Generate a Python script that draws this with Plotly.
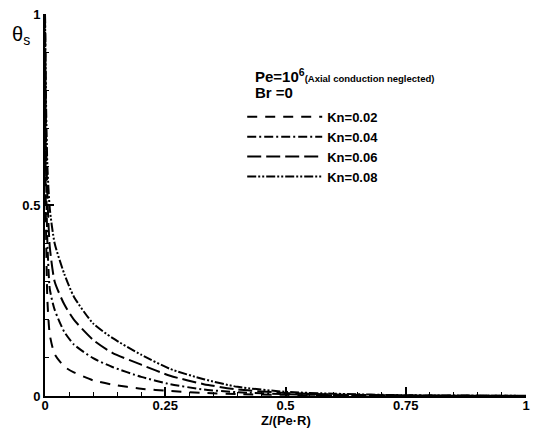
import plotly.graph_objects as go

z = [0, 0.002, 0.005, 0.01, 0.02, 0.04, 0.06, 0.1, 0.14, 0.2, 0.26, 0.33, 0.4, 0.5, 0.6, 0.75, 1.0]

theta_kn002 = [1, 0.45, 0.25, 0.16, 0.11, 0.077, 0.062, 0.041, 0.030, 0.019, 0.013, 0.008, 0.005, 0.003, 0.0015, 0.0007, 0.0002]
theta_kn004 = [1, 0.60, 0.40, 0.28, 0.226, 0.168, 0.135, 0.099, 0.076, 0.050, 0.031, 0.017, 0.010, 0.005, 0.002, 0.001, 0.0002]
theta_kn006 = [1, 0.70, 0.52, 0.39, 0.30, 0.24, 0.20, 0.147, 0.113, 0.082, 0.053, 0.031, 0.017, 0.008, 0.004, 0.0015, 0.0003]
theta_kn008 = [1, 0.78, 0.60, 0.49, 0.40, 0.32, 0.26, 0.19, 0.152, 0.108, 0.071, 0.044, 0.024, 0.011, 0.006, 0.002, 0.0005]

series = [
    ("Kn=0.02", theta_kn002, "10px,8px"),
    ("Kn=0.04", theta_kn004, "9px,3px,2px,3px"),
    ("Kn=0.06", theta_kn006, "14px,5px"),
    ("Kn=0.08", theta_kn008, "9px,2px,2px,2px,2px,2px"),
]

FONT = "Liberation Sans, Arial, sans-serif"

fig = go.Figure()
for name, y, dash in series:
    fig.add_trace(go.Scatter(
        x=z, y=y, mode="lines", name=name,
        line=dict(color="black", width=2, dash=dash, shape="spline", smoothing=0.6),
    ))

axis_common = dict(
    showgrid=False, zeroline=False, showline=True, linecolor="black", linewidth=2,
    ticks="inside", ticklen=9, tickwidth=1.5, tickcolor="black",
    tickfont=dict(family=FONT, size=13, color="black", weight="bold"),
    ticklabeloverflow="allow",
    mirror=False,
)

fig.update_layout(
    width=533, height=429,
    margin=dict(l=45, r=3, t=14, b=33),
    paper_bgcolor="white", plot_bgcolor="white",
    showlegend=True,
    legend=dict(
        x=0.41, y=0.77, xanchor="left", yanchor="top",
        bgcolor="rgba(0,0,0,0)", borderwidth=0,
        font=dict(family=FONT, size=13, color="black", weight="bold"),
        tracegroupgap=0, itemwidth=75,
    ),
    xaxis=dict(
        range=[0, 1], tickvals=[0, 0.25, 0.5, 0.75, 1], ticktext=["0", "0.25", "0.5", "0.75", "1"],
        minor=dict(dtick=0.05, ticks="inside", ticklen=4, tickcolor="black", tickwidth=1),
        ticklabelstandoff=-4,
        **axis_common,
    ),
    yaxis=dict(
        range=[0, 1], tickvals=[0, 0.5, 1], ticktext=["0", "0.5", "1"],
        minor=dict(dtick=0.1, ticks="inside", ticklen=4, tickcolor="black", tickwidth=1),
        **axis_common,
    ),
    annotations=[
        dict(text="θ<sub>s</sub>", x=-0.05, y=0.945, xref="paper", yref="paper", showarrow=False,
             xanchor="center", yanchor="middle",
             font=dict(family=FONT, size=20, color="black")),
        dict(text="Z/(Pe·R)", x=0.5, y=-0.065, xref="paper", yref="paper", showarrow=False,
             xanchor="center", yanchor="middle",
             font=dict(family=FONT, size=13, color="black", weight="bold")),
        dict(text="Pe=10<sup>6</sup><span style='font-size:9.5px'>(Axial conduction neglected)</span>",
             x=0.433, y=0.84, xref="paper", yref="paper", showarrow=False,
             xanchor="left", yanchor="middle",
             font=dict(family=FONT, size=15, color="black", weight="bold")),
        dict(text="Br =0", x=0.433, y=0.795, xref="paper", yref="paper", showarrow=False,
             xanchor="left", yanchor="middle",
             font=dict(family=FONT, size=15, color="black", weight="bold")),
    ],
)

fig.write_html("out.html")
